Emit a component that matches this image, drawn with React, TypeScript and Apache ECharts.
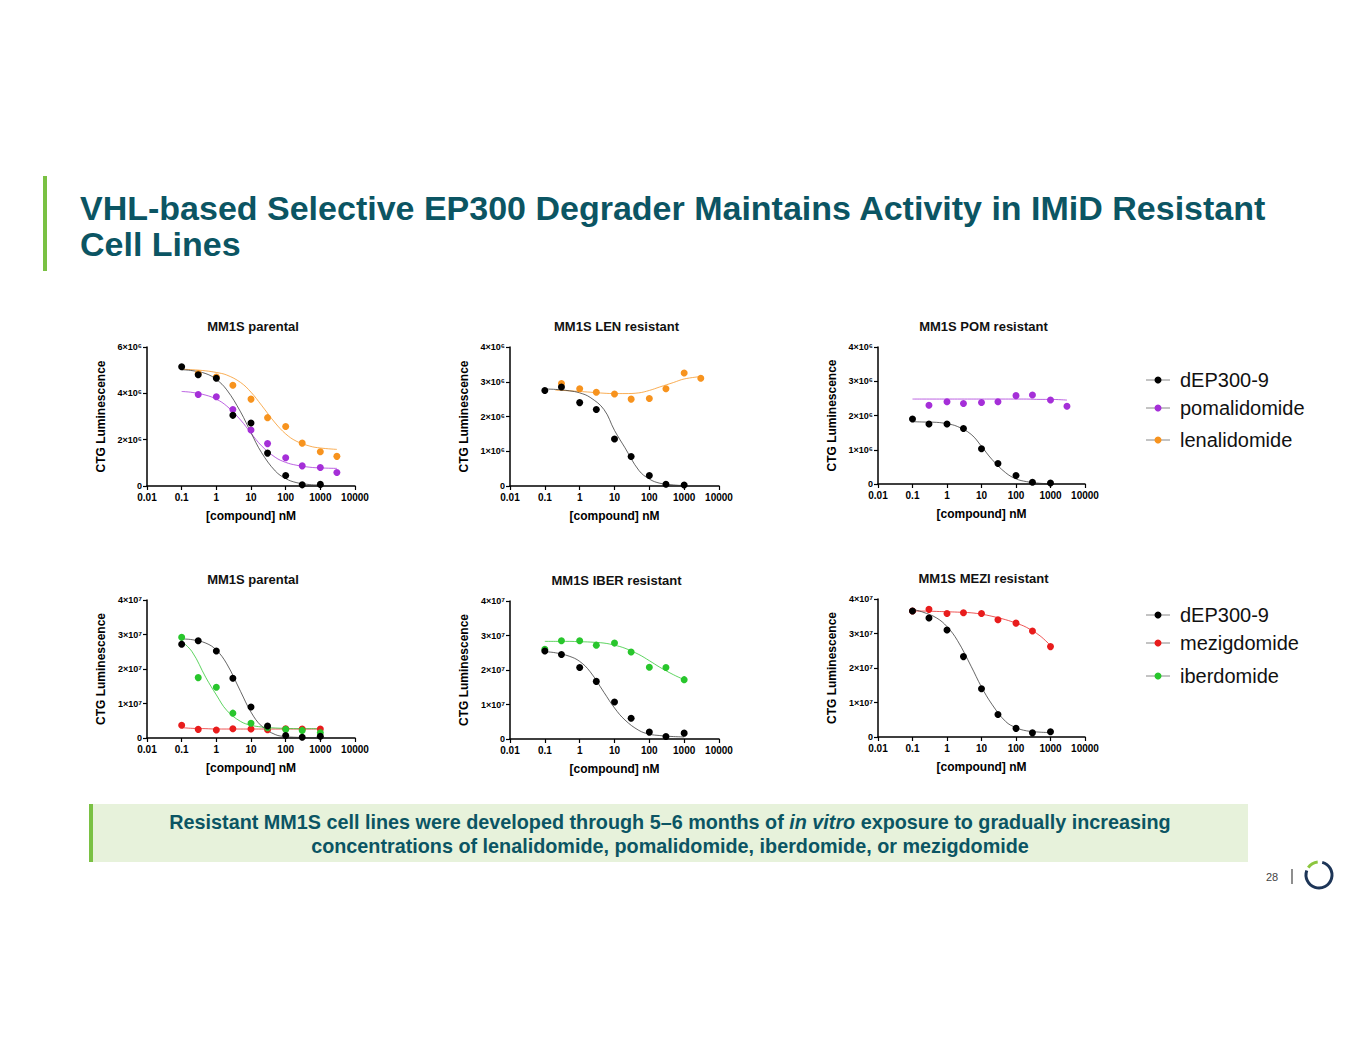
import { useEffect, useRef } from 'react';
import * as echarts from 'echarts';

// ---- data ----
const doses = [0.1, 0.3, 1, 3, 10, 30, 100, 300, 1000, 3000];
const fitDoses = [0.1, 0.2, 0.5, 1, 2, 5, 10, 20, 50, 100, 200, 500, 1000, 3000];

// panel 1: MM1S parental (x1e6)
const p1Black = [5.15, 4.8, 4.65, 3.05, 2.72, 1.42, 0.45, 0.05, 0.07, null];
const p1Purple = [null, 3.95, 3.85, 3.3, 2.42, 1.83, 1.22, 0.87, 0.8, 0.58];
const p1Orange = [null, 4.85, 4.7, 4.35, 3.75, 2.95, 2.57, 1.85, 1.48, 1.28];
const p1BlackFit = [5.02, 4.98, 4.85, 4.6, 4.15, 3.2, 2.3, 1.45, 0.65, 0.32, 0.15, 0.06, 0.04, null];
const p1PurpleFit = [4.08, 4.04, 3.92, 3.75, 3.45, 2.85, 2.28, 1.74, 1.24, 1.02, 0.9, 0.81, 0.78, 0.76];
const p1OrangeFit = [5.04, 5.02, 4.97, 4.9, 4.79, 4.47, 4.05, 3.49, 2.72, 2.25, 1.94, 1.72, 1.64, 1.58];

// panel 2: MM1S LEN resistant (x1e6)
const p2Black = [2.75, 2.85, 2.4, 2.2, 1.35, 0.85, 0.3, 0.05, 0.03, null];
const p2Orange = [null, 2.95, 2.8, 2.7, 2.65, 2.5, 2.52, 2.8, 3.25, 3.1];
const p2BlackFit = [2.79, 2.78, 2.74, 2.68, 2.55, 2.2, 1.6, 1.1, 0.45, 0.2, 0.08, 0.03, 0.01, null];
const p2OrangeFit = [null, 2.76, 2.74, 2.72, 2.7, 2.67, 2.66, 2.66, 2.68, 2.75, 2.85, 2.98, 3.08, 3.15];

// panel 3: MM1S POM resistant (x1e6)
const p3Black = [1.9, 1.75, 1.75, 1.62, 1.03, 0.6, 0.25, 0.05, 0.03, null];
const p3Purple = [null, 2.3, 2.4, 2.35, 2.38, 2.4, 2.58, 2.6, 2.45, 2.27];
const p3BlackFit = [1.82, 1.81, 1.8, 1.76, 1.68, 1.45, 1.1, 0.72, 0.33, 0.15, 0.07, 0.02, 0.01, null];
const p3PurpleFit = [2.48, 2.48, 2.48, 2.48, 2.48, 2.48, 2.48, 2.48, 2.48, 2.48, 2.48, 2.47, 2.47, 2.45];

// panel 4: MM1S parental (x1e7)
const p4Black = [2.72, 2.82, 2.52, 1.73, 0.9, 0.35, 0.07, 0.02, 0.05, null];
const p4Green = [2.92, 1.75, 1.47, 0.72, 0.43, 0.3, 0.25, 0.22, 0.15, null];
const p4Red = [0.37, 0.25, 0.23, 0.27, 0.26, 0.24, 0.27, 0.26, 0.26, null];
const p4BlackFit = [2.87, 2.85, 2.75, 2.55, 2.15, 1.35, 0.75, 0.35, 0.1, 0.04, 0.02, 0.01, 0.0, null];
const p4GreenFit = [2.8, 2.5, 1.75, 1.25, 0.8, 0.48, 0.37, 0.32, 0.29, 0.28, 0.27, 0.27, 0.27, null];
const p4RedFit = [0.3, 0.28, 0.27, 0.26, 0.26, 0.26, 0.26, 0.26, 0.26, 0.26, 0.26, 0.26, 0.26, null];

// panel 5: MM1S IBER resistant (x1e7)
const p5Black = [2.55, 2.45, 2.07, 1.67, 1.07, 0.6, 0.2, 0.07, 0.17, null];
const p5Green = [2.6, 2.85, 2.85, 2.72, 2.78, 2.52, 2.08, 2.07, 1.72, null];
const p5BlackFit = [2.53, 2.5, 2.4, 2.25, 1.95, 1.35, 0.9, 0.55, 0.25, 0.14, 0.1, 0.07, 0.06, null];
const p5GreenFit = [2.83, 2.83, 2.83, 2.82, 2.81, 2.78, 2.72, 2.63, 2.45, 2.27, 2.08, 1.86, 1.72, null];

// panel 6: MM1S MEZI resistant (x1e7)
const p6Black = [3.65, 3.45, 3.1, 2.33, 1.4, 0.65, 0.25, 0.12, 0.15, null];
const p6Red = [3.65, 3.7, 3.58, 3.6, 3.58, 3.4, 3.3, 3.07, 2.62, null];
const p6BlackFit = [3.7, 3.62, 3.45, 3.2, 2.8, 2.05, 1.45, 0.95, 0.45, 0.27, 0.18, 0.14, 0.13, null];
const p6RedFit = [3.65, 3.65, 3.64, 3.63, 3.62, 3.6, 3.56, 3.5, 3.4, 3.3, 3.18, 2.93, 2.65, null];

const panelTitles = [
  'MM1S parental', 'MM1S LEN resistant', 'MM1S POM resistant',
  'MM1S parental', 'MM1S IBER resistant', 'MM1S MEZI resistant',
];
const yTickLabels6 = ['0', '2×10⁶', '4×10⁶', '6×10⁶'];
const yTickLabels6b = ['0', '1×10⁶', '2×10⁶', '3×10⁶', '4×10⁶'];
const yTickLabels7 = ['0', '1×10⁷', '2×10⁷', '3×10⁷', '4×10⁷'];
const legendTop = ['dEP300-9', 'pomalidomide', 'lenalidomide'];
const legendBottom = ['dEP300-9', 'mezigdomide', 'iberdomide'];

const BLACK = '#000000';
const PURPLE = '#a52fd8';
const ORANGE = '#f7931e';
const GREEN = '#28c62c';
const RED = '#e81c1c';
const TEAL = '#0b5563';
const FONT = 'Arial, "Liberation Sans"';

// grid boxes: left, top, width, height (px)
const grids = [
  { left: 147, top: 347, width: 208, height: 139 },
  { left: 510, top: 347, width: 209, height: 139 },
  { left: 878, top: 347, width: 207, height: 137 },
  { left: 147, top: 600, width: 208, height: 138 },
  { left: 510, top: 601, width: 209, height: 138 },
  { left: 878, top: 599, width: 207, height: 138 },
];
const yMax = [6, 4, 4, 4, 4, 4];
const yStep = [2, 1, 1, 1, 1, 1];
const yLabels = [yTickLabels6, yTickLabels6b, yTickLabels6b, yTickLabels7, yTickLabels7, yTickLabels7];

const pts = (xs: number[], ys: (number | null)[]) =>
  xs.map((x, i) => [x, ys[i]]).filter((p) => p[1] != null);

function lineSeries(i: number, ys: (number | null)[], color: string) {
  return {
    type: 'line', xAxisIndex: i, yAxisIndex: i, data: pts(fitDoses, ys), smooth: 0.4,
    showSymbol: false, lineStyle: { color, width: 1, opacity: 0.75 }, z: 1, silent: true,
  };
}
function dotSeries(i: number, ys: (number | null)[], color: string) {
  return {
    type: 'scatter', xAxisIndex: i, yAxisIndex: i, data: pts(doses, ys),
    symbolSize: 7, itemStyle: { color, opacity: 1 }, z: 3,
  };
}

const fmtDose = (v: number) => (v >= 1 ? String(Math.round(v)) : String(+v.toPrecision(1)));

function legendItems(items: string[], colors: string[], ys: number[]) {
  const els: any[] = [];
  items.forEach((t, k) => {
    els.push({ type: 'line', shape: { x1: 1146, y1: ys[k], x2: 1170, y2: ys[k] }, style: { stroke: '#888', lineWidth: 1 } });
    els.push({ type: 'circle', shape: { cx: 1158, cy: ys[k], r: 3.5 }, style: { fill: colors[k] } });
    els.push({ type: 'text', x: 1180, y: ys[k], style: { text: t, fill: '#111', font: `20px ${FONT}`, verticalAlign: 'middle' } });
  });
  return els;
}

export default function App() {
  const ref = useRef<HTMLDivElement>(null);

  useEffect(() => {
    document.body.style.margin = '0';
    if (!ref.current) return;
    const chart = echarts.init(ref.current, undefined, { renderer: 'svg' });
    const axisFont = { fontFamily: FONT, fontWeight: 'bold' as const, fontSize: 10, color: '#000' };

    const xAxis = grids.map((_, i) => ({
      type: 'log', gridIndex: i, min: 0.01, max: 10000, logBase: 10,
      name: '[compound] nM', nameLocation: 'middle', nameGap: 24,
      nameTextStyle: { ...axisFont, fontSize: 12 },
      axisLine: { lineStyle: { color: '#000', width: 1.5 } },
      axisTick: { show: true, length: 4, lineStyle: { color: '#000', width: 1.2 } },
      minorTick: { show: false },
      axisLabel: { ...axisFont, margin: 6, formatter: fmtDose },
      splitLine: { show: false },
    }));
    const yAxis = grids.map((_, i) => ({
      type: 'value', gridIndex: i, min: 0, max: yMax[i], interval: yStep[i],
      name: 'CTG Luminescence', nameLocation: 'middle', nameRotate: 90, nameGap: 40,
      nameTextStyle: { ...axisFont, fontSize: 12 },
      axisLine: { show: true, lineStyle: { color: '#000', width: 1.5 } },
      axisTick: { show: true, length: 4, lineStyle: { color: '#000', width: 1.2 } },
      axisLabel: { ...axisFont, fontSize: 9, margin: 5, formatter: (v: number) => yLabels[i][Math.round(v / yStep[i])] },
      splitLine: { show: false },
    }));

    const series: any[] = [
      lineSeries(0, p1OrangeFit, ORANGE), lineSeries(0, p1PurpleFit, PURPLE), lineSeries(0, p1BlackFit, '#333'),
      dotSeries(0, p1Orange, ORANGE), dotSeries(0, p1Purple, PURPLE), dotSeries(0, p1Black, BLACK),
      lineSeries(1, p2OrangeFit, ORANGE), lineSeries(1, p2BlackFit, '#333'),
      dotSeries(1, p2Orange, ORANGE), dotSeries(1, p2Black, BLACK),
      lineSeries(2, p3PurpleFit, PURPLE), lineSeries(2, p3BlackFit, '#333'),
      dotSeries(2, p3Purple, PURPLE), dotSeries(2, p3Black, BLACK),
      lineSeries(3, p4RedFit, RED), lineSeries(3, p4GreenFit, GREEN), lineSeries(3, p4BlackFit, '#333'),
      dotSeries(3, p4Red, RED), dotSeries(3, p4Green, GREEN), dotSeries(3, p4Black, BLACK),
      lineSeries(4, p5GreenFit, GREEN), lineSeries(4, p5BlackFit, '#333'),
      dotSeries(4, p5Green, GREEN), dotSeries(4, p5Black, BLACK),
      lineSeries(5, p6RedFit, RED), lineSeries(5, p6BlackFit, '#333'),
      dotSeries(5, p6Red, RED), dotSeries(5, p6Black, BLACK),
    ];

    const title = panelTitles.map((t, i) => ({
      text: t, left: grids[i].left + grids[i].width / 2 - 3, top: grids[i].top - 32, textAlign: 'center',
      textStyle: { fontFamily: FONT, fontWeight: 'bold', fontSize: 13, color: '#111' },
    }));

    const graphic: any[] = [
      { type: 'rect', shape: { x: 43, y: 176, width: 4, height: 95 }, style: { fill: '#7ac143' } },
      { type: 'text', x: 80, y: 190, style: { text: 'VHL-based Selective EP300 Degrader Maintains Activity in IMiD Resistant\nCell Lines', fill: TEAL, font: `bold 34px ${FONT}`, lineHeight: 36 } },
      { type: 'rect', shape: { x: 89, y: 804, width: 1159, height: 58 }, style: { fill: '#e7f2db' } },
      { type: 'rect', shape: { x: 89, y: 804, width: 4, height: 58 }, style: { fill: '#7ac143' } },
      {
        type: 'text', x: 670, y: 834,
        style: {
          text: '{b|Resistant MM1S cell lines were developed through 5–6 months of }{i|in vitro}{b| exposure to gradually increasing}\n{b|concentrations of lenalidomide, pomalidomide, iberdomide, or mezigdomide}',
          align: 'center', verticalAlign: 'middle', lineHeight: 24,
          rich: {
            b: { fill: TEAL, font: `bold 19.8px ${FONT}` },
            i: { fill: TEAL, font: `italic bold 19.8px ${FONT}` },
          },
        },
      },
      { type: 'text', x: 1266, y: 877, style: { text: '28', fill: '#444', font: `11px ${FONT}`, verticalAlign: 'middle' } },
      { type: 'line', shape: { x1: 1292, y1: 869, x2: 1292, y2: 884 }, style: { stroke: '#444', lineWidth: 1.2 } },
      { type: 'arc', shape: { cx: 1319, cy: 875, r: 13, startAngle: -Math.PI / 2 + 0.25, endAngle: Math.PI + 0.35 }, style: { stroke: '#1d3557', lineWidth: 3, fill: 'none' } },
      { type: 'arc', shape: { cx: 1319, cy: 875, r: 13, startAngle: Math.PI + 0.6, endAngle: -Math.PI / 2 - 0.1 }, style: { stroke: '#8cc63f', lineWidth: 3, fill: 'none' } },
      ...legendItems(legendTop, [BLACK, PURPLE, ORANGE], [380, 408, 440]),
      ...legendItems(legendBottom, [BLACK, RED, GREEN], [615, 643, 676]),
    ];

    chart.setOption({
      animation: false,
      backgroundColor: '#fff',
      title,
      grid: grids.map((g) => ({ ...g, containLabel: false })),
      xAxis, yAxis, series, graphic,
    } as any);
    return () => chart.dispose();
  }, []);

  return <div ref={ref} style={{ width: 1365, height: 1055 }} />;
}
